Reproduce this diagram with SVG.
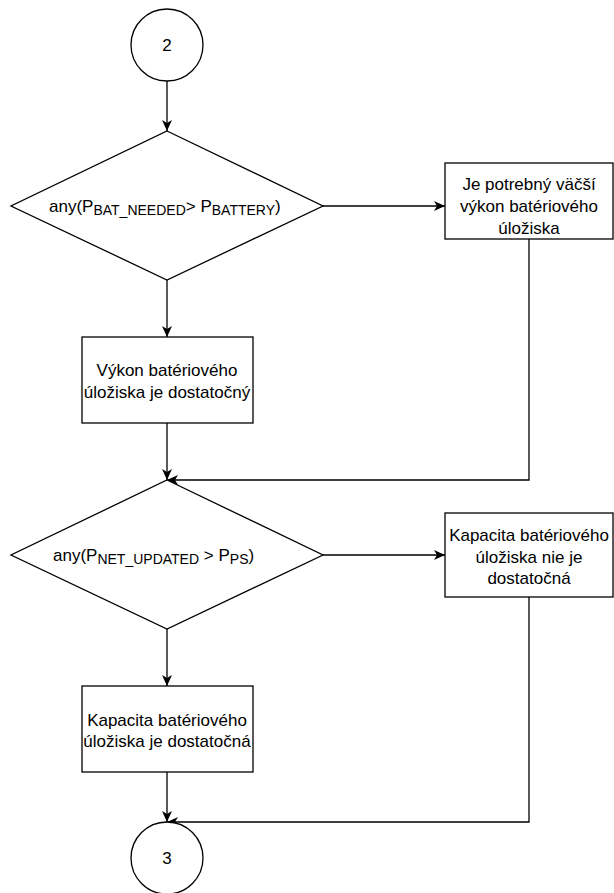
<svg xmlns="http://www.w3.org/2000/svg" width="614" height="893" viewBox="0 0 614 893">
<style>
.s{fill:#fff;stroke:#000;stroke-width:1.3}
.c{fill:none;stroke:#000;stroke-width:1.3}
text{font-family:"Liberation Sans",Arial,sans-serif;font-size:17px;fill:#000}
.m{text-anchor:middle}
.sub{font-size:14px}
</style>
<defs>
<marker id="a" viewBox="0 0 11 10" refX="11" refY="5" markerWidth="11" markerHeight="10" markerUnits="userSpaceOnUse" orient="auto">
<path d="M0,0 L11,5 L0,10 L3,5 z" fill="#000"/>
</marker>
</defs>
<g id="connectors">
<path class="c" d="M167,81 V131" marker-end="url(#a)"/>
<path class="c" d="M323,206 H445" marker-end="url(#a)"/>
<path class="c" d="M167,280 V337" marker-end="url(#a)"/>
<path class="c" d="M167,423 V480" marker-end="url(#a)"/>
<path class="c" d="M529,239 V480 H167" marker-end="url(#a)"/>
<path class="c" d="M323,555 H445" marker-end="url(#a)"/>
<path class="c" d="M167,629 V686" marker-end="url(#a)"/>
<path class="c" d="M167,772 V822" marker-end="url(#a)"/>
<path class="c" d="M529,597 V822 H167" marker-end="url(#a)"/>
</g>
<g id="start2">
<circle class="s" cx="167" cy="45" r="36"/>
<text class="m" x="167" y="51">2</text>
</g>
<g id="decision1">
<path class="s" d="M167,131 L323,206 L167,280 L11,206 Z"/>
<text x="49" y="212">any(P<tspan class="sub" dy="3">BAT_NEEDED</tspan><tspan dy="-3">&gt; P</tspan><tspan class="sub" dy="3">BATTERY</tspan><tspan dy="-3">)</tspan></text>
</g>
<g id="needMore">
<rect class="s" x="445" y="163" width="168" height="76"/>
<text class="m" x="529" y="190">Je potrebný väčší</text>
<text class="m" x="529" y="212">výkon batériového</text>
<text class="m" x="529" y="234">úložiska</text>
</g>
<g id="powerOk">
<rect class="s" x="82" y="337" width="171" height="86"/>
<text class="m" x="167" y="376">Výkon batériového</text>
<text class="m" x="167" y="398">úložiska je dostatočný</text>
</g>
<g id="decision2">
<path class="s" d="M167,480 L323,555 L167,629 L11,555 Z"/>
<text x="53" y="561">any(P<tspan class="sub" dy="3">NET_UPDATED</tspan><tspan dy="-3"> &gt; P</tspan><tspan class="sub" dy="3">PS</tspan><tspan dy="-3">)</tspan></text>
</g>
<g id="capNotOk">
<rect class="s" x="445" y="513" width="168" height="84"/>
<text class="m" x="529" y="541">Kapacita batériového</text>
<text class="m" x="529" y="563">úložiska nie je</text>
<text class="m" x="529" y="584">dostatočná</text>
</g>
<g id="capOk">
<rect class="s" x="82" y="686" width="171" height="86"/>
<text class="m" x="167" y="726">Kapacita batériového</text>
<text class="m" x="167" y="747">úložiska je dostatočná</text>
</g>
<g id="end3">
<circle class="s" cx="167" cy="858" r="36"/>
<text class="m" x="167" y="864">3</text>
</g>
</svg>
